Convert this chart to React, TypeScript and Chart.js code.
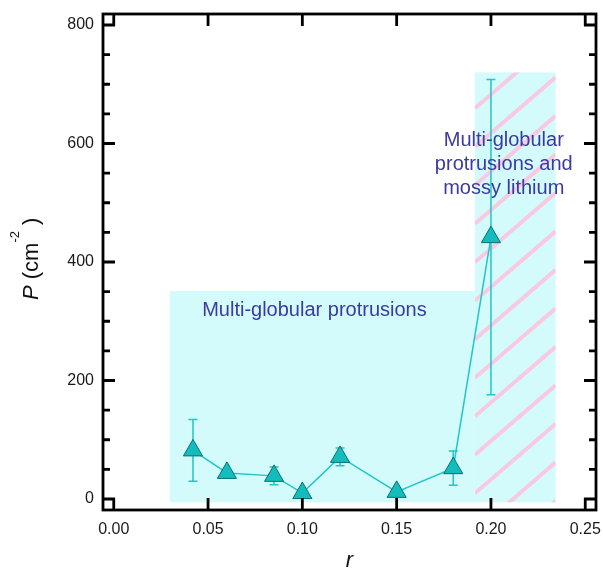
import React, { useEffect, useRef } from 'react';
import { Chart, registerables } from 'chart.js';

Chart.register(...registerables);

// ---- data ----
const R_VALUES = [0.042, 0.06, 0.085, 0.10, 0.12, 0.15, 0.18, 0.20];
const P_VALUES = [82, 44, 39, 10, 71, 12, 52, 442];
const P_ERRORS = [52, 5, 15, 3, 15, 3, 29, 266];

const X_TICKS = [0, 0.05, 0.1, 0.15, 0.2, 0.25];
const Y_TICKS = [0, 200, 400, 600, 800];
const Y_MINOR_TICKS = [50, 100, 150, 250, 300, 350, 450, 500, 550, 650, 700, 750];

// shaded regions: x boundaries [start MG, MG/mossy boundary, end mossy]
const REGION_X = [0.0297, 0.1915, 0.2343];
const REGION_TOP = [351, 720];
const REGION_BOTTOM = -5.6;

const LABEL_MG = ['Multi-globular protrusions'];
const LABEL_MG_AT = [0.1064, 318];
const LABEL_MOSSY = ['Multi-globular', 'protrusions and', 'mossy lithium'];
const LABEL_MOSSY_AT = [0.2068, 564];

// ---- style ----
const FONT = '"Liberation Sans", Arial, sans-serif';
const CYAN_FILL = '#d4fbfc';
const PINK = '#f9c9e2';
const LINE_COLOR = '#22c6c6';
const MARKER_FILL = '#14bdbd';
const MARKER_EDGE = '#0b6f6f';
const TEXT_BLUE = '#3a3aa2';

const overlayPlugin = {
  id: 'overlay',
  beforeDatasetsDraw(chart: any) {
    const { ctx, scales } = chart;
    const xs = scales.x, ys = scales.y;
    const px = (v: number) => xs.getPixelForValue(v);
    const py = (v: number) => ys.getPixelForValue(v);
    ctx.save();
    // region 1: multi-globular
    const b = py(REGION_BOTTOM);
    ctx.fillStyle = CYAN_FILL;
    ctx.fillRect(px(REGION_X[0]), py(REGION_TOP[0]), px(REGION_X[1]) - px(REGION_X[0]), b - py(REGION_TOP[0]));
    // region 2: mossy
    const L = px(REGION_X[1]), R = px(REGION_X[2]), T = py(REGION_TOP[1]);
    ctx.fillRect(L, T, R - L, b - T);
    ctx.save();
    ctx.beginPath();
    ctx.rect(L, T, R - L, b - T);
    ctx.clip();
    ctx.strokeStyle = PINK;
    ctx.lineWidth = 4;
    const slope = 0.86;
    const spacing = 38.5;
    const rise = slope * (R - L);
    for (let yl = b - 9 + spacing * 3; yl > T - rise - spacing; yl -= spacing) {
      ctx.beginPath();
      ctx.moveTo(L, yl);
      ctx.lineTo(R, yl - rise);
      ctx.stroke();
    }
    ctx.restore();

    // error bars
    ctx.strokeStyle = LINE_COLOR;
    ctx.lineWidth = 1.5;
    R_VALUES.forEach((r, i) => {
      const x = px(r);
      const y1 = py(P_VALUES[i] + P_ERRORS[i]);
      const y2 = py(P_VALUES[i] - P_ERRORS[i]);
      ctx.beginPath();
      ctx.moveTo(x, y1); ctx.lineTo(x, y2);
      ctx.moveTo(x - 4.5, y1); ctx.lineTo(x + 4.5, y1);
      ctx.moveTo(x - 4.5, y2); ctx.lineTo(x + 4.5, y2);
      ctx.stroke();
    });

    // annotations
    ctx.fillStyle = TEXT_BLUE;
    ctx.font = '20px ' + FONT;
    ctx.textAlign = 'center';
    ctx.textBaseline = 'middle';
    LABEL_MG.forEach((t, i) => ctx.fillText(t, px(LABEL_MG_AT[0]), py(LABEL_MG_AT[1]) + i * 24));
    LABEL_MOSSY.forEach((t, i) => ctx.fillText(t, px(LABEL_MOSSY_AT[0]), py(LABEL_MOSSY_AT[1]) - 24 + i * 24));
    ctx.restore();
  },
  afterDraw(chart: any) {
    const { ctx, chartArea, scales } = chart;
    const { left, right, top, bottom } = chartArea;
    const xs = scales.x, ys = scales.y;
    ctx.save();
    ctx.strokeStyle = '#000';
    ctx.lineWidth = 2.8;
    ctx.strokeRect(left, top, right - left, bottom - top);
    ctx.beginPath();
    X_TICKS.forEach(v => {
      const x = xs.getPixelForValue(v);
      ctx.moveTo(x, bottom); ctx.lineTo(x, bottom - 12);
      ctx.moveTo(x, top); ctx.lineTo(x, top + 12);
    });
    Y_TICKS.forEach(v => {
      const y = ys.getPixelForValue(v);
      ctx.moveTo(left, y); ctx.lineTo(left + 12, y);
      ctx.moveTo(right, y); ctx.lineTo(right - 12, y);
    });
    Y_MINOR_TICKS.forEach(v => {
      const y = ys.getPixelForValue(v);
      ctx.moveTo(left, y); ctx.lineTo(left + 7, y);
      ctx.moveTo(right, y); ctx.lineTo(right - 7, y);
    });
    ctx.stroke();

    // axis titles
    ctx.fillStyle = '#111';
    ctx.textBaseline = 'alphabetic';
    ctx.textAlign = 'left';
    // x title
    ctx.font = 'italic 22px ' + FONT;
    const rw = ctx.measureText('r').width;
    ctx.fillText('r', (left + right) / 2 - rw / 2, 567);
    // y title
    const parts = [
      { t: 'P', f: 'italic 22px ' + FONT, dy: 0 },
      { t: ' (cm', f: '22px ' + FONT, dy: 0 },
      { t: '-2', f: '13px ' + FONT, dy: -19 },
      { t: ' )', f: '22px ' + FONT, dy: 0 },
    ];
    ctx.translate(38, 300);
    ctx.rotate(-Math.PI / 2);
    let cx = 0;
    parts.forEach(p => {
      ctx.font = p.f;
      ctx.fillText(p.t, cx, p.dy);
      cx += ctx.measureText(p.t).width;
    });
    ctx.restore();
  },
};

export default function App() {
  const ref = useRef<HTMLCanvasElement | null>(null);
  useEffect(() => {
    if (!ref.current) return;
    const chart = new Chart(ref.current, {
      type: 'scatter',
      data: {
        datasets: [{
          data: R_VALUES.map((r, i) => ({ x: r, y: P_VALUES[i] })),
          showLine: true,
          borderColor: LINE_COLOR,
          borderWidth: 1.5,
          pointStyle: 'triangle',
          pointRadius: 11,
          pointHoverRadius: 11,
          pointBackgroundColor: MARKER_FILL,
          pointBorderColor: MARKER_EDGE,
          pointBorderWidth: 1,
        }],
      },
      options: {
        animation: false,
        responsive: false,
        events: [],
        layout: { autoPadding: false, padding: { top: 14, right: 7, left: 0, bottom: 0 } },
        plugins: { legend: { display: false }, tooltip: { enabled: false } },
        scales: {
          x: {
            type: 'linear',
            min: -0.0057,
            max: 0.2557,
            grid: { display: false, drawTicks: false },
            border: { display: false },
            afterBuildTicks: (s: any) => { s.ticks = X_TICKS.map(v => ({ value: v })); },
            afterFit: (s: any) => { s.height = 61; s.paddingLeft = 0; s.paddingRight = 0; },
            ticks: {
              padding: 10,
              color: '#1a1a1a',
              font: { size: 16, family: FONT },
              callback: (v: any) => Number(v).toFixed(2),
              maxRotation: 0,
            },
          },
          y: {
            type: 'linear',
            min: -18.6,
            max: 818.6,
            grid: { display: false, drawTicks: false },
            border: { display: false },
            afterBuildTicks: (s: any) => { s.ticks = Y_TICKS.map(v => ({ value: v })); },
            afterFit: (s: any) => { s.width = 103; s.paddingTop = 0; s.paddingBottom = 0; },
            ticks: {
              padding: 9,
              color: '#1a1a1a',
              font: { size: 16, family: FONT },
              callback: (v: any) => String(v),
            },
          },
        },
      },
      plugins: [overlayPlugin],
    } as any);
    return () => chart.destroy();
  }, []);
  return (
    <div style={{ position: 'absolute', left: 0, top: 0, width: 603, height: 571, background: '#fff' }}>
      <canvas ref={ref} width={603} height={571} style={{ display: 'block' }} />
    </div>
  );
}
